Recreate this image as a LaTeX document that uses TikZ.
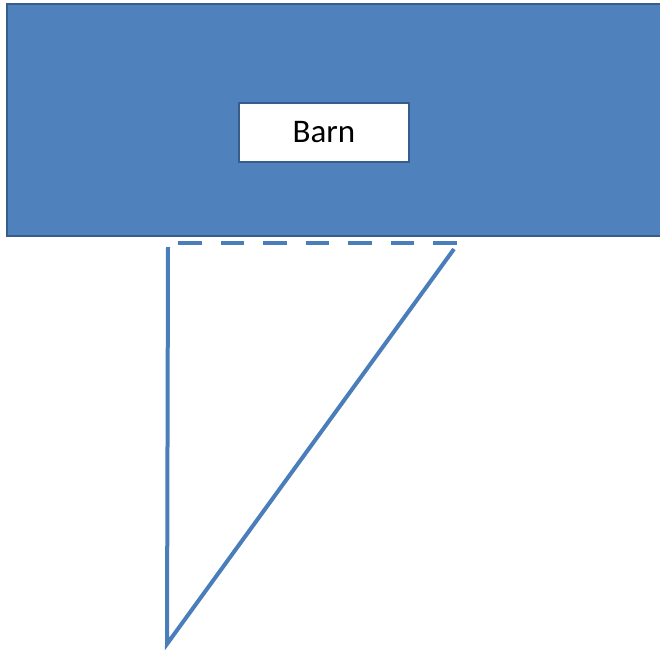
\documentclass[tikz,border=0pt]{standalone}
\usepackage{fontspec}
\setmainfont{Carlito}
\definecolor{barnfill}{HTML}{4F81BD}
\definecolor{barnedge}{HTML}{385D8A}
\definecolor{linecol}{HTML}{4A7EBB}
\tikzset{
  barnrect/.style={draw=barnedge, fill=barnfill, line width=2pt},
  labelbox/.style={draw=barnedge, fill=white, line width=2pt, minimum width=170pt, minimum height=59pt, inner sep=0pt, font=\fontsize{33}{36}\selectfont},
  edge/.style={draw=linecol, line width=4pt},
}
\begin{document}
\begin{tikzpicture}[x=1pt,y=1pt]
\useasboundingbox (0,0) rectangle (660,-654);
\fill[white] (0,0) rectangle (660,-654);
\draw[barnrect] (7,-4) rectangle (668,-236);
\node[labelbox] (barn) at (324,-132.5) {Barn};
\coordinate (tl) at (168,-247);
\coordinate (bot) at (167,-644);
\coordinate (tr) at (454,-249);
\coordinate (ds) at (178,-243);
\coordinate (de) at (457,-243);
\draw[edge] (tl) -- (bot) -- (tr);
\draw[edge, dash pattern=on 23.5pt off 19pt] (ds) -- (de);
\end{tikzpicture}
\end{document}
